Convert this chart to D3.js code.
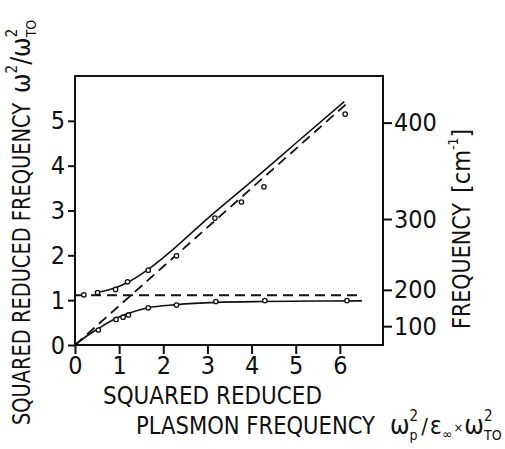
<!DOCTYPE html>
<html><head><meta charset="utf-8">
<script src="https://cdn.jsdelivr.net/npm/d3@7/dist/d3.min.js"></script>
<style>
html,body{margin:0;padding:0;background:#fff;}
text{font-family:"DejaVu Sans Condensed","Liberation Sans Narrow","DejaVu Sans",sans-serif;font-stretch:condensed;fill:#111;}
</style></head>
<body>
<svg id="chart" width="505" height="449"></svg>
<script>
// ---- data ----
const xTicks = [0, 1, 2, 3, 4, 5, 6];
const yTicks = [0, 1, 2, 3, 4, 5];
const freqTicks = [100, 200, 300, 400];            // cm^-1
const freqTickReduced = [0.42, 1.23, 2.81, 4.96];  // position of those ticks in ω²/ω²TO units

// measured points (open circles)
const upperPointsX = [0.20, 0.51, 0.92, 1.19, 1.66, 2.30, 3.17, 3.77, 4.28, 6.12];
const upperPointsY = [1.12, 1.17, 1.24, 1.41, 1.67, 1.99, 2.83, 3.19, 3.53, 5.15];
const lowerPointsX = [0.53, 0.93, 1.09, 1.21, 1.66, 2.30, 3.19, 4.30, 6.16];
const lowerPointsY = [0.335, 0.57, 0.62, 0.67, 0.83, 0.89, 0.97, 0.99, 0.99];

// coupled-mode curves (solid)
const upperCurveX = [0.5, 0.9, 1.2, 1.65, 2.0, 2.3, 3.0, 4.0, 5.0, 6.1];
const upperCurveY = [1.17, 1.27, 1.40, 1.68, 1.95, 2.2, 2.82, 3.65, 4.5, 5.43];
const lowerCurveX = [0, 0.25, 0.5, 0.9, 1.2, 1.65, 2.3, 3.2, 4.3, 5.5, 6.5];
const lowerCurveY = [0, 0.19, 0.35, 0.58, 0.70, 0.83, 0.90, 0.95, 0.97, 0.98, 0.985];

// uncoupled modes (dashed)
const plasmonLineX = [0, 6.15];
const plasmonLineY = [0, 5.38];
const loLineX = [0, 6.5];
const loLineY = [1.11, 1.11];

const zip = (a, b) => a.map((v, i) => [v, b[i]]);

// ---- layout ----
const svg = d3.select("#chart");
const x = d3.scaleLinear().domain([0, 7]).range([75, 384]);
const y = d3.scaleLinear().domain([0, 6]).range([345, 76]);
const yFreq = d3.scaleLinear().domain(freqTicks).range(freqTickReduced.map(v => y(v)));
const FS = 25;

// frame
svg.append("rect")
  .attr("x", x(0)).attr("y", y(6))
  .attr("width", 383 - x(0)).attr("height", y(0) - y(6))
  .attr("fill", "none").attr("stroke", "#111").attr("stroke-width", 2);

function styleAxis(g) {
  g.select(".domain").remove();
  g.selectAll(".tick line").attr("stroke", "#111").attr("stroke-width", 2);
  g.selectAll(".tick text").attr("font-size", FS).attr("fill", "#111")
    .style("font-family", '"DejaVu Sans Condensed","Liberation Sans Narrow","DejaVu Sans",sans-serif');
}

svg.append("g").attr("transform", `translate(0,${y(0)})`)
  .call(d3.axisBottom(x).tickValues(xTicks).tickSize(9).tickPadding(2).tickFormat(d3.format("d")))
  .call(styleAxis);

svg.append("g").attr("transform", `translate(${x(0)},0)`)
  .call(d3.axisLeft(y).tickValues(yTicks).tickSize(7).tickPadding(3).tickFormat(d3.format("d")))
  .call(styleAxis);

svg.append("g").attr("transform", `translate(383,0)`)
  .call(d3.axisRight(yFreq).tickValues(freqTicks).tickSize(9).tickPadding(2).tickFormat(d3.format("d")))
  .call(styleAxis);

// lines
const line = d3.line().x(d => x(d[0])).y(d => y(d[1]));
const smooth = d3.line().x(d => x(d[0])).y(d => y(d[1])).curve(d3.curveMonotoneX);

svg.append("path").datum(zip(plasmonLineX, plasmonLineY)).attr("d", line)
  .attr("fill", "none").attr("stroke", "#111").attr("stroke-width", 1.8).attr("stroke-dasharray", "10,6");
svg.append("path").datum(zip(loLineX, loLineY)).attr("d", line)
  .attr("fill", "none").attr("stroke", "#111").attr("stroke-width", 1.8).attr("stroke-dasharray", "10,6");
svg.append("path").datum(zip(upperCurveX, upperCurveY)).attr("d", smooth)
  .attr("fill", "none").attr("stroke", "#111").attr("stroke-width", 1.6);
svg.append("path").datum(zip(lowerCurveX, lowerCurveY)).attr("d", smooth)
  .attr("fill", "none").attr("stroke", "#111").attr("stroke-width", 1.6);

// points
const pts = zip(upperPointsX, upperPointsY).concat(zip(lowerPointsX, lowerPointsY));
svg.append("g").selectAll("circle").data(pts).join("circle")
  .attr("cx", d => x(d[0])).attr("cy", d => y(d[1])).attr("r", 2.2)
  .attr("fill", "#fff").attr("stroke", "#111").attr("stroke-width", 1.3);

// rich text helper: pieces placed left to right; stack=true shares start x with previous piece
function rich(parent, x0, y0, pieces) {
  let cx = x0, prevStart = x0, prevEnd = x0;
  pieces.forEach(p => {
    const start = p.stack ? prevStart : cx;
    const t = parent.append("text").attr("x", start).attr("y", y0 + (p.dy || 0))
      .attr("font-size", p.fs || FS).text(p.t);
    if (p.len) t.attr("textLength", p.len).attr("lengthAdjust", "spacingAndGlyphs");
    const w = p.len || t.node().getComputedTextLength();
    const end = start + w;
    if (p.stack) { cx = Math.max(prevEnd, end); }
    else { cx = end; }
    prevStart = start; prevEnd = Math.max(end, p.stack ? prevEnd : end);
    cx += (p.gap || 0);
  });
  return cx;
}

// left axis title (rotated)
const gl = svg.append("g").attr("transform", "translate(30,425) rotate(-90)");
rich(gl, 0, 0, [
  {t: "SQUARED REDUCED FREQUENCY", len: 322, gap: 10},
  {t: "ω", fs: 26},
  {t: "2", fs: 15, dy: -13},
  {t: "/ω", fs: 26},
  {t: "2", fs: 15, dy: -13},
  {t: "TO", fs: 14, dy: 6, stack: true}
]);

// right axis title (rotated)
const gr = svg.append("g").attr("transform", "translate(470,329) rotate(-90)");
rich(gr, 0, 0, [
  {t: "FREQUENCY", len: 126, gap: 10},
  {t: "[cm", fs: FS},
  {t: "-1", fs: 14, dy: -12},
  {t: "]", fs: FS}
]);

// bottom titles
rich(svg, 103, 403.5, [{t: "SQUARED REDUCED", len: 219}]);
rich(svg, 136, 433.5, [{t: "PLASMON FREQUENCY", len: 239}]);
rich(svg, 390, 433.5, [
  {t: "ω", fs: 26},
  {t: "2", fs: 15, dy: -13},
  {t: "p", fs: 14, dy: 6, stack: true, gap: 3},
  {t: "/", fs: 22, gap: 2},
  {t: "ε", fs: 25},
  {t: "∞", fs: 14, dy: 5, gap: 1},
  {t: "×", fs: 13, dy: -2, gap: 1},
  {t: "ω", fs: 26},
  {t: "2", fs: 15, dy: -13},
  {t: "TO", fs: 14, dy: 6, stack: true}
]);
</script>
</body></html>
